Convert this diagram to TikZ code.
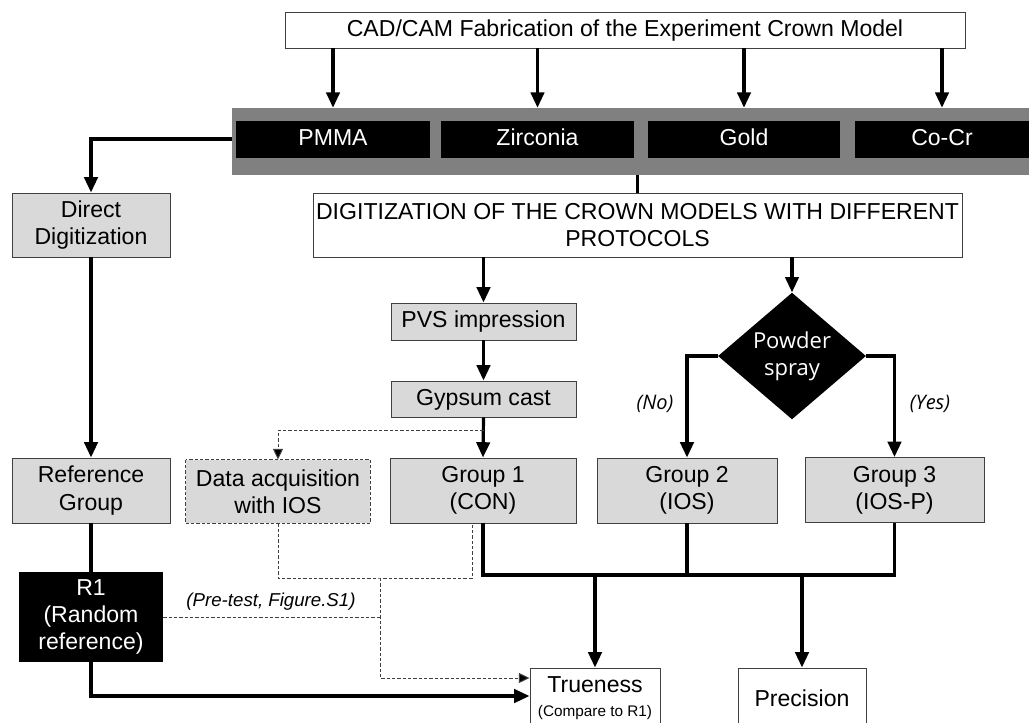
\documentclass[tikz,border=0pt]{standalone}
\usepackage{fontspec}
\setmainfont{Liberation Sans}
\newfontfamily\sprayfont{Open Sans}
\usetikzlibrary{arrows.meta,shapes.geometric}

\begin{document}
\begin{tikzpicture}[x=0.75pt,y=-0.75pt,font=\fontsize{17.3}{20.5}\selectfont]

    \tikzset{
      whitebox/.style={
        draw=black!75,
        line width=0.7pt,
        fill=white,
        inner sep=0pt,
        align=center,
      },
      greybox/.style={whitebox,fill=black!15},
      blackbox/.style={fill=black,text=white,inner sep=0pt,align=center},
      onerow/.style={text height=12.5pt,text depth=3.5pt},
      arr/.style={line width=2.4pt,-{Triangle[length=11.5pt,width=10pt]}},
      plain/.style={line width=2.4pt},
      dashline/.style={draw=black!75,line width=0.75pt,dash pattern=on 2.5pt off 1.5pt},
      dasharr/.style={dashline,-{Triangle[length=8pt,width=7.5pt,fill=black]}},
    }
    \useasboundingbox (0,0) rectangle (1029,722);
    \clip (0,0) rectangle (1029,722);

	\node[whitebox,onerow,minimum width=510pt,minimum height=27pt] (cad) at (625,30) {CAD/CAM Fabrication of the Experiment Crown Model};
	\node[fill=black!50,inner sep=0pt,minimum width=597.75pt,minimum height=50.25pt] (band) at (630.5,141.5) {};
	\node[blackbox,onerow,minimum width=145.5pt,minimum height=27.75pt] (pmma) at (333,139) {PMMA};
	\node[blackbox,onerow,minimum width=144.75pt,minimum height=27.75pt] (zirc) at (537.5,139) {Zirconia};
	\node[blackbox,onerow,minimum width=144pt,minimum height=27.75pt] (gold) at (744,139) {Gold};
	\node[blackbox,onerow,minimum width=130.5pt,minimum height=27.75pt] (cocr) at (942,139) {Co-Cr};

	\node[greybox,minimum width=118.5pt,minimum height=48pt] (direct) at (91,225) {Direct\\Digitization};
	\node[whitebox,minimum width=486.75pt,minimum height=48pt] (digit) at (637.5,225) {DIGITIZATION OF THE CROWN MODELS WITH DIFFERENT\\PROTOCOLS};
	\node[greybox,onerow,minimum width=138.75pt,minimum height=27.75pt] (pvs) at (483.5,321.5) {PVS impression};
	\node[greybox,onerow,minimum width=138.75pt,minimum height=27pt] (gypsum) at (483.5,399) {Gypsum cast};
	\node[diamond,fill=black,text=white,inner sep=0pt,minimum width=111pt,minimum height=84pt,align=center,font=\sprayfont\fontsize{16.5}{20}\selectfont] (powder) at (792,356) {Powder\\spray};

	\node[greybox,minimum width=118.5pt,minimum height=48.75pt] (refgrp) at (91,490.5) {Reference\\Group};
	\node[greybox,draw=none,minimum width=138pt,minimum height=47.25pt] (dataacq) at (278,491.5) {Data acquisition\\with IOS};
	\draw[dashline] (dataacq.north west) rectangle (dataacq.south east);
	\node[greybox,minimum width=139.5pt,minimum height=48.75pt] (grp1) at (483,490.5) {Group 1\\(CON)};
	\node[greybox,minimum width=135pt,minimum height=48.75pt] (grp2) at (687,490.5) {Group 2\\(IOS)};
	\node[greybox,minimum width=134.25pt,minimum height=48.75pt] (grp3) at (894.5,490) {Group 3\\(IOS-P)};
	\node[blackbox,minimum width=108pt,minimum height=67.5pt] (r1) at (91,617) {R1\\(Random\\reference)};

	\node[whitebox,minimum width=97.5pt,minimum height=45pt] (trueness) at (595,698) {Trueness\\[-3pt]{\fontsize{11.5}{13}\selectfont(Compare to R1)}};
	\node[whitebox,minimum width=96pt,minimum height=45pt] (precision) at (802,698) {Precision};

	\node[font=\fontsize{14}{16}\selectfont\itshape] (pretest) at (271,602) {(Pre-test, Figure.S1)};
	\node[font=\sprayfont\fontsize{15}{17}\selectfont\itshape] (nolab) at (655,404) {(No)};
	\node[font=\sprayfont\fontsize{15}{17}\selectfont\itshape] (yeslab) at (930,404) {(Yes)};

	\draw[arr] (cad.south -| pmma) -- (band.north -| pmma);
	\draw[arr] (cad.south -| zirc) -- (band.north -| zirc);
	\draw[arr] (cad.south -| gold) -- (band.north -| gold);
	\draw[arr] (cad.south -| cocr) -- (band.north -| cocr);

	\draw[arr] (band.west |- pmma) -| (direct.north);
	\draw[plain] (band.south -| digit) -- (digit.north);
	\draw[arr] (direct.south) -- (refgrp.north);
	\draw[plain] (refgrp.south) -- (r1.north);

	\draw[arr] (digit.south -| pvs) -- (pvs.north);
	\draw[arr] (digit.south -| powder) -- (powder.north);
	\draw[arr] (pvs.south) -- (gypsum.north);
	\draw[arr] (gypsum.south) -- (grp1.north);
	\draw[arr] (powder.west) -| (grp2.north);
	\draw[arr] (powder.east) -| (grp3.north);

	\coordinate (split) at ([yshift=-9.75pt]gypsum.south);
	\draw[dasharr] (split) -| (dataacq.north);

	\coordinate (bus) at (grp1.south |- 0,575);
	\draw[plain] (grp1.south) -- (bus) -- (bus -| grp3.south) -- (grp3.south);
	\draw[plain] (grp2.south) -- (bus -| grp2.south);
	\draw[arr] (bus -| trueness.north) -- (trueness.north);
	\draw[arr] (bus -| precision.north) -- (precision.north);

	\coordinate (g1tap) at ([xshift=-8.25pt]grp1.south);
	\coordinate (dbus) at (380,578);
	\draw[dashline] (dataacq.south) |- (dbus) -| (g1tap);
	\draw[dashline] (r1.east) -- (r1.east -| dbus);
	\draw[dasharr] (dbus) |- ([yshift=15pt]trueness.west);
	\draw[arr] (r1.south) |- ([yshift=1.5pt]trueness.west);

\end{tikzpicture}
\end{document}
